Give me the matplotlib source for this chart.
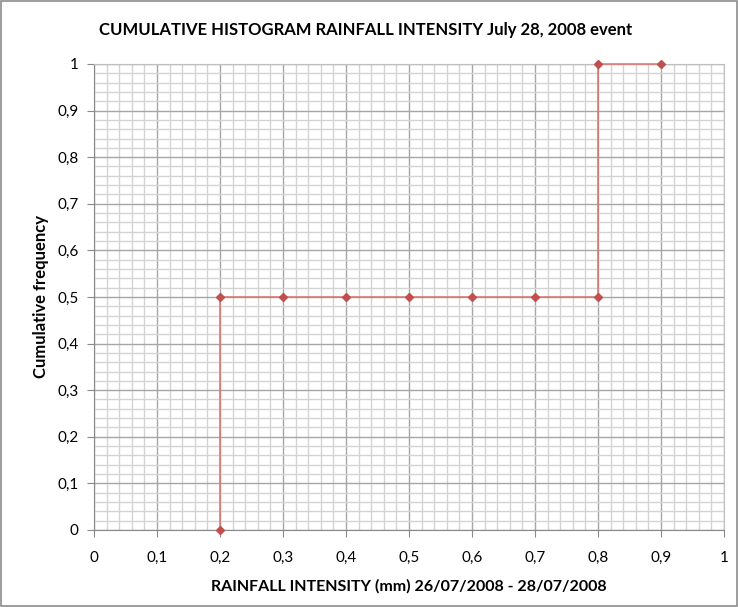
import numpy as np
import matplotlib.pyplot as plt
from matplotlib.patches import Rectangle
from matplotlib.ticker import MultipleLocator, FuncFormatter

# cumulative histogram points (step shape)
intensity = [0.2, 0.2, 0.3, 0.4, 0.5, 0.6, 0.7, 0.8, 0.8, 0.9]
cum_freq = [0.0, 0.5, 0.5, 0.5, 0.5, 0.5, 0.5, 0.5, 1.0, 1.0]

title = "CUMULATIVE HISTOGRAM RAINFALL INTENSITY July 28, 2008 event"
xlabel = "RAINFALL INTENSITY (mm) 26/07/2008 - 28/07/2008"
ylabel = "Cumulative frequency"

plt.rcParams["font.family"] = ["Lato", "DejaVu Sans"]

fig = plt.figure(figsize=(7.38, 6.07), dpi=100)
fig.patches.append(Rectangle((0.002, 0.002), 0.996, 0.996, transform=fig.transFigure,
                             fill=False, edgecolor="#8c8c8c", linewidth=1.2))

ax = fig.add_axes([0.1274, 0.1269, 0.8537, 0.7677])
ax.set_xlim(0, 1)
ax.set_ylim(0, 1)

ax.xaxis.set_major_locator(MultipleLocator(0.1))
ax.xaxis.set_minor_locator(MultipleLocator(0.02))
ax.yaxis.set_major_locator(MultipleLocator(0.1))
ax.yaxis.set_minor_locator(MultipleLocator(0.02))


def comma_fmt(v, pos):
    if abs(v - round(v)) < 1e-9:
        return str(int(round(v)))
    return f"{v:.1f}".replace(".", ",")


ax.xaxis.set_major_formatter(FuncFormatter(comma_fmt))
ax.yaxis.set_major_formatter(FuncFormatter(comma_fmt))

ax.grid(which="major", color="#a6a6a6", linewidth=1.0)
ax.grid(which="minor", color="#d4d4d4", linewidth=1.0)
ax.set_axisbelow(True)

for s in ax.spines.values():
    s.set_color("#bfbfbf")
ax.spines["left"].set_color("#888888")
ax.spines["bottom"].set_color("#888888")

ax.tick_params(which="major", length=5, color="#888888", labelsize=11, pad=6)
ax.tick_params(which="minor", length=0)
ax.tick_params(axis="x", pad=10)

ax.plot(intensity, cum_freq, color="#d9736f", linewidth=1.1,
        marker="D", markersize=4, markerfacecolor="#c0504d", markeredgecolor="#c0504d",
        clip_on=False, zorder=5)

fig.text(0.495, 0.951, title, ha="center", va="center", fontsize=12, fontweight="bold")
ax.set_xlabel(xlabel, fontsize=11.5, fontweight="bold", labelpad=10)
ax.set_ylabel(ylabel, fontsize=12, fontweight="bold", labelpad=6)

fig.savefig("out.png", dpi=100)
